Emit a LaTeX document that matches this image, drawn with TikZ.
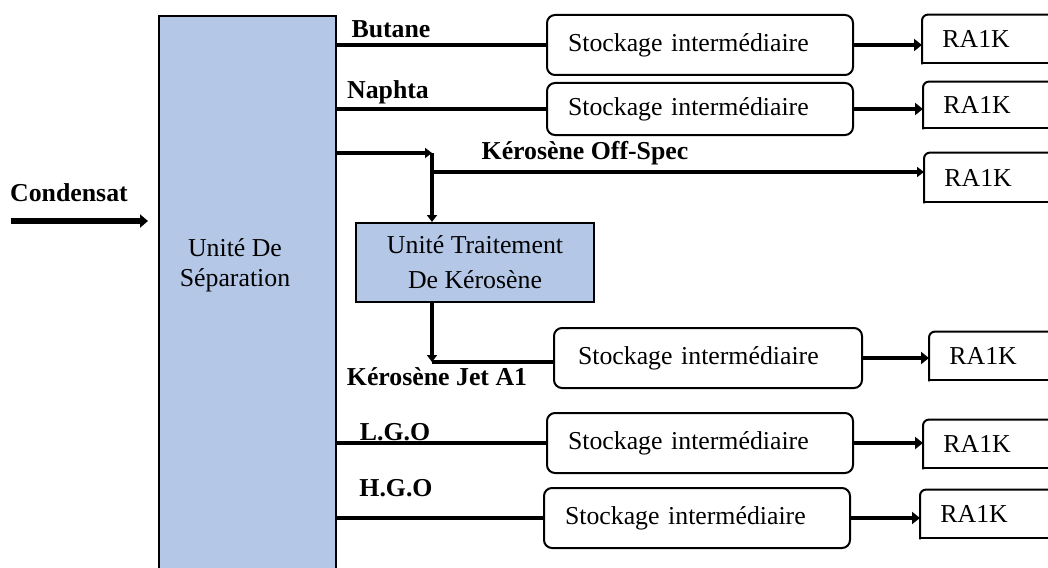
\documentclass[tikz,border=0pt]{standalone}
\usepackage{fontspec}
\setmainfont{Liberation Serif}
\usetikzlibrary{arrows.meta}
\definecolor{unitblue}{HTML}{B4C7E7}

\begin{document}
\begin{tikzpicture}[x=0.5pt, y=-0.5pt, font=\fontsize{12.9}{15}\selectfont,
  unit/.style={draw, line width=1pt, fill=unitblue, inner sep=0pt, align=center},
  store/.style={draw, line width=1pt, rounded corners=4pt, anchor=west, minimum height=30pt,
    text width=132pt, inner xsep=10.5pt, align=left},
  ra/.style={anchor=west, minimum height=24pt, text width=70pt, inner xsep=10pt, align=left},
  outline/.style={line width=1pt, line cap=rect},
  lab/.style={font=\fontsize{12.9}{15}\selectfont\bfseries},
  flow/.style={line width=1.6pt},
  tip/.style={-{Triangle[length=3.5pt,width=5pt]}},
  feed/.style={line width=2pt, -{Triangle[length=4pt,width=6pt]}}]
  \useasboundingbox (0,0) rectangle (1048,567);
  \clip (0,0) rectangle (1048,567);

  \node[unit, minimum width=88.5pt, minimum height=300pt, anchor=north west] (sep) at (158,15) {};
  \node[align=center] (septxt) at (235,265) {Unité De\\Séparation};
  \node[unit, minimum width=119pt, minimum height=39.5pt,
    font=\fontsize{12.9}{17.5}\selectfont] (trt) at (475,262.5) {Unité Traitement\\De Kérosène};

  \node[lab] (cond) at (69,193) {Condensat};
  \coordinate (cin) at (11,221);
  \draw[line width=3pt, -{Triangle[length=4pt,width=6.5pt]}, shorten >=5pt] (cin) -- (cin -| sep.west);

  % stockages
  \node[store] (s1) at (546,45) {Stockage intermédiaire};
  \node[store, minimum height=26pt] (s2) at (546,109) {Stockage intermédiaire};
  \node[store, inner xsep=12pt, text width=130pt] (s3) at (553,358) {Stockage intermédiaire};
  \node[store] (s4) at (546,443) {Stockage intermédiaire};
  \node[store] (s5) at (543,518) {Stockage intermédiaire};

  % RA1K
  \node[ra] (r1) at (922,39) {RA1K};
  \node[ra, minimum height=23pt] (r2) at (923,105) {RA1K};
  \node[ra, minimum height=24.5pt] (r3) at (924,177.5) {RA1K};
  \node[ra] (r4) at (929,356) {RA1K};
  \node[ra] (r5) at (923,444) {RA1K};
  \node[ra] (r6) at (920,514) {RA1K};
  \foreach \r in {r1,r2,r3,r4,r5,r6} {
    \draw[outline] (\r.south west) -- (\r.south east);
    \draw[outline, rounded corners=3pt] (\r.south west) -- (\r.north west) -- (\r.north east);
  }

  \node[lab] (but) at (391,29) {Butane};
  \node[lab] (nap) at (388,92) {Naphta};
  \node[lab] (kos) at (585,153) {Kérosène Off-Spec};
  \node[lab] (kja) at (437,377) {Kérosène Jet A1};
  \node[lab] (lgo) at (395,432) {L.G.O};
  \node[lab] (hgo) at (396,488) {H.G.O};

  \foreach \s in {s1,s2,s4,s5} \draw[flow] (sep.east |- \s.west) -- (\s.west);
  \foreach \s/\r in {s1/r1,s2/r2,s3/r4,s4/r5,s5/r6} \draw[feed] (\s.east) -- (\s.east -| \r.west);

  % kerosene
  \coordinate (br) at (432,153);
  \coordinate (os) at (432,172);
  \coordinate (ja) at (432,362);
  \draw[flow, tip] (sep.east |- br) -- (br);
  \draw[flow, tip] (br) -- (br |- trt.north);
  \draw[flow, tip] (os) -- (os -| r3.west);
  \draw[line width=2pt, tip] (trt.south -| ja) -- (ja);
  \draw[flow] (ja) -- (ja -| s3.west);
\end{tikzpicture}
\end{document}
